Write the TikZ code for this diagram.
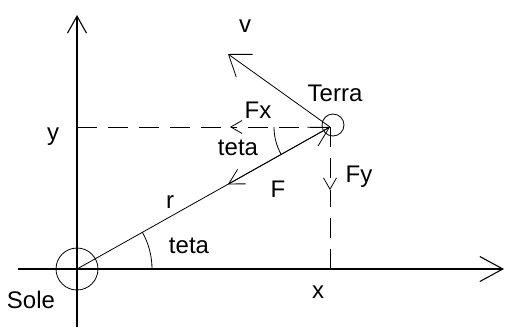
\documentclass[tikz,border=0pt]{standalone}
\usepackage{fontspec}
\setmainfont{Liberation Sans}
\usetikzlibrary{arrows.meta}
\begin{document}
\begin{tikzpicture}[x=1pt,y=-1pt,
  thinline/.style={line width=0.8pt},
  axisline/.style={line width=1.1pt},
  dashline/.style={line width=0.8pt, dash pattern=on 20pt off 11pt},
  lbl/.style={font=\fontsize{24}{28}\selectfont, inner sep=0pt, anchor=base},
  planet/.style={circle, draw, line width=0.8pt, inner sep=0pt},
  headx/.style={-{Straight Barb[length=23pt,width=25pt]}},
  heady/.style={-{Straight Barb[length=17pt,width=19pt]}},
  headr/.style={-{Straight Barb[length=19pt,width=21.5pt]}},
  headv/.style={-{Straight Barb[length=19.5pt,width=28pt]}},
  headf/.style={-{Straight Barb[length=14.8pt,width=16.6pt]}},
  headsmall/.style={-{Straight Barb[length=11.3pt,width=13pt]}}
]
\useasboundingbox (0,0) rectangle (505,327);
% coordinates
\coordinate (sun) at (77,269);
\coordinate (earth) at (330,127);
\coordinate (xstart) at (18,269);
\coordinate (xend) at (504,269);
\coordinate (ystart) at (77,327);
\coordinate (yend) at (77,15);
\coordinate (ytick) at (77,127);
\coordinate (xtick) at (330,269);
\coordinate (vtip) at (228,54);
\coordinate (ftip) at (228,184.3);
\coordinate (fxtip) at (230,127);
\coordinate (fytip) at (330,190);
% bodies
\node[planet, minimum size=42pt] (sole) at (sun) {};
\node[planet, minimum size=22pt] (terra) at (333,125) {};
% axes
\draw[axisline, headx] (xstart) -- (xend);
\draw[axisline, heady] (ystart) -- (yend);
% vectors
\draw[thinline, headr] (sun) -- (earth);
\draw[thinline, headf] (earth) -- (ftip);
\draw[thinline, headv] (earth) -- (vtip);
% components
\draw[dashline] (ytick) -- (fxtip);
\draw[dashline, headsmall] (earth) -- (fxtip);
\draw[dashline] (xtick) -- (fytip);
\draw[dashline, headsmall] (earth) -- (fytip);
% angles
\draw[thinline] (152,269) arc[start angle=0, end angle=-29.3, radius=75];
\draw[thinline] (274,127) arc[start angle=180, end angle=150.7, radius=56];
% labels
\node[lbl] (lv) at (245,32) {v};
\node[lbl] (lterra) at (335,101) {Terra};
\node[lbl] (lfx) at (258,118) {Fx};
\node[lbl] (lteta1) at (238,155) {teta};
\node[lbl] (lf) at (278,197) {F};
\node[lbl] (lfy) at (359,182) {Fy};
\node[lbl] (lr) at (170,208) {r};
\node[lbl] (lteta2) at (189,253) {teta};
\node[lbl] (ly) at (53,140) {y};
\node[lbl] (lx) at (318,298) {x};
\node[lbl] (lsole) at (31,308) {Sole};
\end{tikzpicture}
\end{document}
